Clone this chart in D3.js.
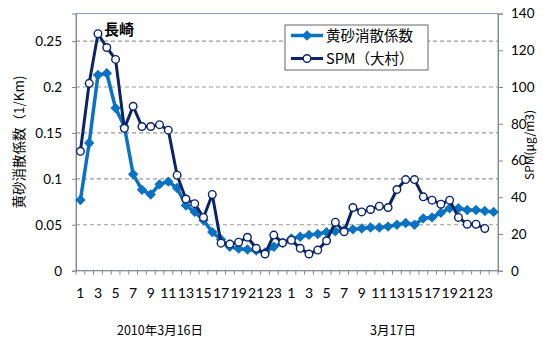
<!DOCTYPE html>
<html>
<head>
<meta charset="utf-8">
<script src="https://cdn.jsdelivr.net/npm/d3@7"></script>
<style>
  html, body { margin: 0; padding: 0; background: #fff; }
  svg { display: block; }
  text { font-family: Lato, "Noto Sans CJK JP", sans-serif; fill: #000; }
  .jp { font-family: "Noto Sans CJK JP", sans-serif; }
</style>
</head>
<body>
<svg id="chart" width="543" height="339"></svg>
<script>
// Hourly readings for two days (hour 1..24 on each day)
const hourLabels = [1,2,3,4,5,6,7,8,9,10,11,12,13,14,15,16,17,18,19,20,21,22,23,24];
const dayLabels = ["2010年3月16日", "3月17日"];

// 黄砂消散係数 (1/Km), 48 hourly values
const extinction = [
  0.077, 0.139, 0.213, 0.215, 0.177, 0.157, 0.105, 0.088, 0.083, 0.094, 0.097, 0.090,
  0.071, 0.064, 0.055, 0.042, 0.034, 0.026, 0.024, 0.023, 0.022, 0.020, 0.026, 0.030,
  0.035, 0.037, 0.039, 0.040, 0.042, 0.043, 0.044, 0.045, 0.046, 0.047, 0.047, 0.048,
  0.050, 0.052, 0.050, 0.057, 0.058, 0.063, 0.068, 0.068, 0.066, 0.066, 0.065, 0.064
];

// SPM at 大村 (μg/m3), 47 hourly values (last hour missing)
const spm = [
  65, 102, 129, 121.5, 115, 77.5, 89.5, 78.5, 78.5, 79.5, 76.5, 52,
  39, 36.5, 29, 41.5, 15, 14.5, 15.5, 18.2, 12.2, 9.1, 19.4, 15.2,
  16.6, 12.2, 9.1, 11.2, 16.3, 26.4, 21.2, 34.4, 32, 33.3, 35.1, 34.4,
  44.2, 49.6, 49.6, 40.2, 38.4, 36.2, 38.4, 29, 25.3, 25.3, 23
];

const seriesNames = ["黄砂消散係数", "SPM（大村）"];
const leftTicks = [0, 0.05, 0.1, 0.15, 0.2, 0.25];
const rightTicks = [0, 20, 40, 60, 80, 100, 120, 140];

const categories = [];
dayLabels.forEach((d, di) => hourLabels.forEach(h => categories.push(di * 24 + h - 1)));

const svg = d3.select("#chart");
const m = { left: 76, right: 498, top: 13.5, bottom: 270.7 };

const x = d3.scaleBand().domain(categories).range([m.left, m.right]).padding(0);
const yL = d3.scaleLinear().domain([0, 0.28]).range([m.bottom, m.top]);
const yR = d3.scaleLinear().domain([0, 140]).range([m.bottom, m.top]);
const cx = i => x(i) + x.bandwidth() / 2;

const lightBlue = "#0a72c2";
const navy = "#0b2468";

// dashed gridlines
svg.append("g").selectAll("line")
  .data(leftTicks.filter(t => t > 0))
  .join("line")
  .attr("x1", m.left).attr("x2", m.right)
  .attr("y1", d => yL(d)).attr("y2", d => yL(d))
  .attr("stroke", "#9a9a9a").attr("stroke-width", 1.2)
  .attr("stroke-dasharray", "4,3");

// plot frame
svg.append("rect")
  .attr("x", m.left).attr("y", m.top)
  .attr("width", m.right - m.left).attr("height", m.bottom - m.top)
  .attr("fill", "none").attr("stroke", "#8a9bb3").attr("stroke-width", 1);

// left axis
const axL = svg.append("g").attr("transform", `translate(${m.left},0)`)
  .call(d3.axisLeft(yL).tickValues(leftTicks).tickSize(4).tickPadding(10)
    .tickFormat(d => d === 0 ? "0" : String(+d.toFixed(2))));
axL.select(".domain").attr("stroke", "#888");
axL.selectAll(".tick line").attr("stroke", "#888");
axL.selectAll("text").attr("font-size", 13.5).attr("font-family", "Lato, sans-serif").attr("fill", "#000");

// right axis
const axR = svg.append("g").attr("transform", `translate(${m.right},0)`)
  .call(d3.axisRight(yR).tickValues(rightTicks).tickSize(5).tickPadding(8));
axR.select(".domain").attr("stroke", "#888");
axR.selectAll(".tick line").attr("stroke", "#888");
axR.selectAll("text").attr("font-size", 13.5).attr("font-family", "Lato, sans-serif").attr("fill", "#000");

// bottom axis: ticks on category boundaries, labels on odd hours
const axB = svg.append("g").attr("transform", `translate(0,${m.bottom})`);
axB.append("line").attr("x1", m.left).attr("x2", m.right).attr("stroke", "#888");
axB.selectAll("line.tk")
  .data(categories.concat([categories.length]))
  .join("line").attr("class", "tk")
  .attr("x1", d => d < categories.length ? x(d) : m.right)
  .attr("x2", d => d < categories.length ? x(d) : m.right)
  .attr("y1", 0).attr("y2", 4).attr("stroke", "#888");
axB.selectAll("text")
  .data(categories.filter(i => (i % 24) % 2 === 0))
  .join("text")
  .attr("x", d => cx(d)).attr("y", 27.5)
  .attr("text-anchor", "middle").attr("font-size", 14)
  .text(d => hourLabels[d % 24]);

// day labels
svg.selectAll("text.day")
  .data(dayLabels)
  .join("text").attr("class", "day jp")
  .attr("x", (d, i) => i === 0 ? 160 : 393).attr("y", 335)
  .attr("text-anchor", "middle").attr("font-size", 12.5)
  .text(d => d);

// series lines
const lineL = d3.line().x((d, i) => cx(i)).y(d => yL(d));
const lineR = d3.line().x((d, i) => cx(i)).y(d => yR(d));

svg.append("path").datum(extinction)
  .attr("d", lineL).attr("fill", "none")
  .attr("stroke", lightBlue).attr("stroke-width", 3.5).attr("stroke-linejoin", "round");
svg.append("g").selectAll("path")
  .data(extinction)
  .join("path")
  .attr("d", "M0,-5.2L5.2,0L0,5.2L-5.2,0Z")
  .attr("transform", (d, i) => `translate(${cx(i)},${yL(d)})`)
  .attr("fill", lightBlue);

svg.append("path").datum(spm)
  .attr("d", lineR).attr("fill", "none")
  .attr("stroke", navy).attr("stroke-width", 3).attr("stroke-linejoin", "round");
svg.append("g").selectAll("circle")
  .data(spm)
  .join("circle")
  .attr("cx", (d, i) => cx(i)).attr("cy", d => yR(d)).attr("r", 3.8)
  .attr("fill", "#fff").attr("stroke", navy).attr("stroke-width", 1.4);

// axis titles
svg.append("text").attr("class", "jp")
  .attr("transform", "translate(24,142) rotate(-90)")
  .attr("text-anchor", "middle").attr("font-size", 13.5)
  .text("黄砂消散係数（1/Km)");
svg.append("text").attr("class", "jp")
  .attr("transform", "translate(534,145) rotate(-90)")
  .attr("text-anchor", "middle").attr("font-size", 12)
  .text("SPM(μg/m3)");

// station label
svg.append("text").attr("class", "jp")
  .attr("x", 104).attr("y", 35)
  .attr("font-size", 15).attr("font-weight", "bold")
  .text("長崎");

// legend
const lg = svg.append("g").attr("transform", "translate(285,25)");
lg.append("rect").attr("width", 143).attr("height", 45)
  .attr("fill", "#fff").attr("stroke", "#666").attr("stroke-width", 1);
const items = [
  { color: lightBlue, mark: "diamond" },
  { color: navy, mark: "circle" }
];
items.forEach((it, k) => {
  const yy = 10.5 + k * 23;
  lg.append("line").attr("x1", 6).attr("x2", 38).attr("y1", yy).attr("y2", yy)
    .attr("stroke", it.color).attr("stroke-width", it.mark === "diamond" ? 3.5 : 3);
  if (it.mark === "diamond") {
    lg.append("path").attr("d", "M0,-5.2L5.2,0L0,5.2L-5.2,0Z")
      .attr("transform", `translate(22,${yy})`).attr("fill", it.color);
  } else {
    lg.append("circle").attr("cx", 22).attr("cy", yy).attr("r", 3.8)
      .attr("fill", "#fff").attr("stroke", it.color).attr("stroke-width", 1.4);
  }
  lg.append("text").attr("class", "jp").attr("x", 41).attr("y", yy + 5)
    .attr("font-size", 14.5).text(seriesNames[k]);
});
</script>
</body>
</html>
